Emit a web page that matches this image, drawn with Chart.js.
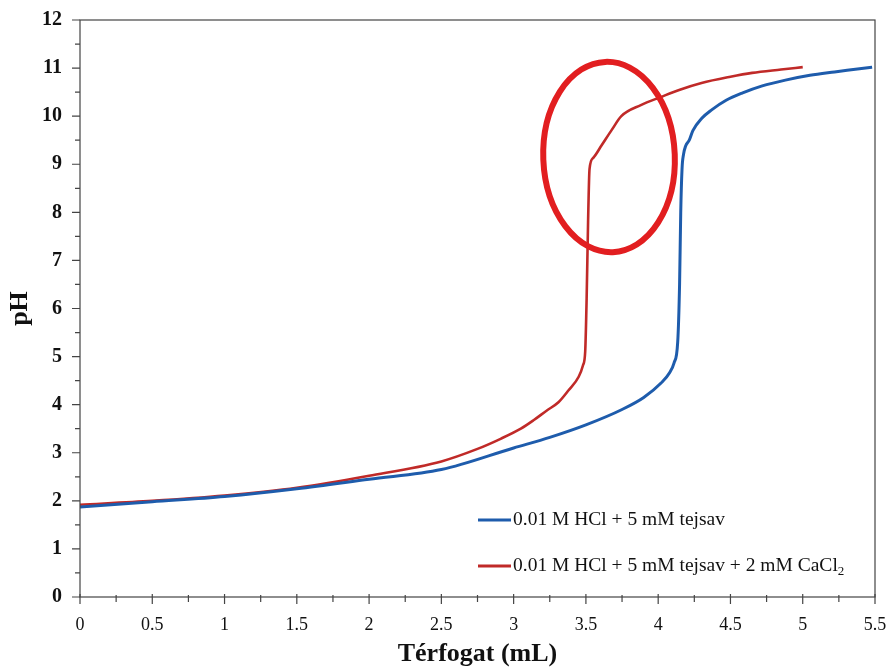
<!DOCTYPE html>
<html>
<head>
<meta charset="utf-8">
<script src="https://cdn.jsdelivr.net/npm/chart.js@4/dist/chart.umd.min.js"></script>
<style>
  html, body { margin: 0; padding: 0; background: #fff; }
  #wrap { width: 890px; height: 670px; position: relative; }
</style>
</head>
<body>
<div id="wrap"><canvas id="c"></canvas></div>
<script>
// ---- Data ----
const seriesLabels = ["0.01 M HCl + 5 mM tejsav", "0.01 M HCl + 5 mM tejsav + 2 mM CaCl"];
const seriesSub = ["", "2"];

const blueX = [0, 0.5, 1, 1.5, 2, 2.5, 3, 3.25, 3.5, 3.75, 3.9, 4.02, 4.08, 4.11, 4.135, 4.148, 4.156, 4.165, 4.175, 4.19, 4.215, 4.24, 4.3, 4.37, 4.47, 4.58, 4.72, 4.88, 5.05, 5.22, 5.35, 5.48];
const blueY = [1.87, 1.98, 2.09, 2.25, 2.45, 2.65, 3.1, 3.32, 3.58, 3.9, 4.15, 4.45, 4.67, 4.87, 5.3, 6.5, 8.0, 8.9, 9.2, 9.38, 9.5, 9.7, 9.95, 10.13, 10.33, 10.48, 10.63, 10.75, 10.85, 10.92, 10.97, 11.02];

const redX = [0, 0.5, 1, 1.5, 2, 2.5, 2.75, 2.91, 3.05, 3.14, 3.23, 3.31, 3.38, 3.45, 3.48, 3.495, 3.505, 3.515, 3.525, 3.55, 3.61, 3.68, 3.745, 3.88, 4.02, 4.15, 4.3, 4.5, 4.65, 4.85, 5.0];
const redY = [1.92, 2.0, 2.11, 2.27, 2.52, 2.82, 3.08, 3.29, 3.5, 3.68, 3.88, 4.05, 4.3, 4.58, 4.82, 5.1, 6.2, 7.8, 8.9, 9.13, 9.4, 9.72, 10.0, 10.23, 10.4, 10.55, 10.69, 10.82, 10.9, 10.97, 11.02];

const xTicks = [0, 0.5, 1, 1.5, 2, 2.5, 3, 3.5, 4, 4.5, 5, 5.5];
const yTicks = [0, 1, 2, 3, 4, 5, 6, 7, 8, 9, 10, 11, 12];

// highlight ellipse (data coords)
const ellipseCenter = [3.66, 9.15];
const ellipseRadii = [0.455, 1.98];

const BLUE = "rgb(30,92,172)";
const RED = "rgb(192,42,40)";
const SERIF = "'Liberation Serif', 'Times New Roman', serif";

function pts(xs, ys) { return xs.map((x, i) => ({ x: x, y: ys[i] })); }

const framePlugin = {
  id: "frame",
  afterDraw(chart) {
    const ctx = chart.ctx;
    const a = chart.chartArea;
    const xs = chart.scales.x, ys = chart.scales.y;
    ctx.save();
    ctx.strokeStyle = "#444";
    ctx.lineWidth = 1.2;
    ctx.strokeRect(a.left, a.top, a.right - a.left, a.bottom - a.top);
    ctx.beginPath();
    for (let v = 0; v <= 5.5001; v += 0.25) {
      const px = xs.getPixelForValue(v);
      const major = Math.abs(v * 2 - Math.round(v * 2)) < 1e-6;
      ctx.moveTo(px, a.bottom - (major ? 3 : 2));
      ctx.lineTo(px, a.bottom + (major ? 7 : 5));
    }
    for (let v = 0; v <= 12.0001; v += 0.5) {
      const py = ys.getPixelForValue(v);
      const major = Math.abs(v - Math.round(v)) < 1e-6;
      ctx.moveTo(a.left - (major ? 8 : 5), py);
      ctx.lineTo(a.left, py);
    }
    ctx.stroke();

    // legend
    const colors = [BLUE, RED];
    const lx = 478, ly = [520, 566];
    chart.data.datasets.forEach((ds, i) => {
      ctx.strokeStyle = colors[i];
      ctx.lineWidth = 3;
      ctx.beginPath();
      ctx.moveTo(lx, ly[i]);
      ctx.lineTo(lx + 33, ly[i]);
      ctx.stroke();
      ctx.fillStyle = "#111";
      ctx.font = "19.5px " + SERIF;
      ctx.textBaseline = "middle";
      ctx.textAlign = "left";
      ctx.fillText(ds.label, lx + 35, ly[i]);
      if (seriesSub[i]) {
        const w = ctx.measureText(ds.label).width;
        ctx.font = "13px " + SERIF;
        ctx.fillText(seriesSub[i], lx + 35 + w, ly[i] + 6);
      }
    });
    ctx.restore();
  },
  afterDatasetsDraw(chart) {
    const ctx = chart.ctx;
    const xs = chart.scales.x, ys = chart.scales.y;
    const cx = xs.getPixelForValue(ellipseCenter[0]);
    const cy = ys.getPixelForValue(ellipseCenter[1]);
    const rx = Math.abs(xs.getPixelForValue(ellipseCenter[0] + ellipseRadii[0]) - cx);
    const ry = Math.abs(ys.getPixelForValue(ellipseCenter[1] + ellipseRadii[1]) - cy);
    ctx.save();
    ctx.strokeStyle = "rgb(226,30,32)";
    ctx.lineWidth = 6;
    ctx.beginPath();
    ctx.ellipse(cx, cy, rx, ry, -0.04, 0, Math.PI * 2);
    ctx.stroke();
    ctx.restore();
  }
};

new Chart(document.getElementById("c"), {
  type: "scatter",
  data: {
    datasets: [
      { label: seriesLabels[0], data: pts(blueX, blueY), showLine: true, borderColor: BLUE, borderWidth: 3, pointRadius: 0, cubicInterpolationMode: "monotone", fill: false },
      { label: seriesLabels[1], data: pts(redX, redY), showLine: true, borderColor: RED, borderWidth: 2.6, pointRadius: 0, cubicInterpolationMode: "monotone", fill: false }
    ]
  },
  options: {
    responsive: true,
    maintainAspectRatio: false,
    animation: false,
    layout: { padding: { left: 0, top: 20, right: 15, bottom: 0 } },
    plugins: { legend: { display: false }, tooltip: { enabled: false } },
    scales: {
      x: {
        type: "linear", min: 0, max: 5.5,
        afterBuildTicks(s) { s.ticks = xTicks.map(v => ({ value: v })); },
        afterFit(s) { s.height = 73; s.paddingLeft = 0; s.paddingRight = 0; },
        grid: { display: false },
        border: { display: false },
        ticks: { color: "#111", padding: 9, font: { family: SERIF, size: 18 }, maxRotation: 0, callback: v => String(v) },
        title: { display: true, text: "Térfogat (mL)", color: "#111", font: { family: SERIF, size: 26, weight: "bold" }, padding: { top: 4, bottom: 0 } }
      },
      y: {
        type: "linear", min: 0, max: 12,
        afterBuildTicks(s) { s.ticks = yTicks.map(v => ({ value: v })); },
        afterFit(s) { s.width = 80; s.paddingTop = 0; s.paddingBottom = 0; },
        grid: { display: false },
        border: { display: false },
        ticks: { color: "#111", padding: 10, font: { family: SERIF, size: 20, weight: "bold" } },
        title: { display: true, text: "pH", color: "#111", font: { family: SERIF, size: 26, weight: "bold" }, padding: { top: 5, bottom: 0 } }
      }
    }
  },
  plugins: [framePlugin]
});
</script>
</body>
</html>
